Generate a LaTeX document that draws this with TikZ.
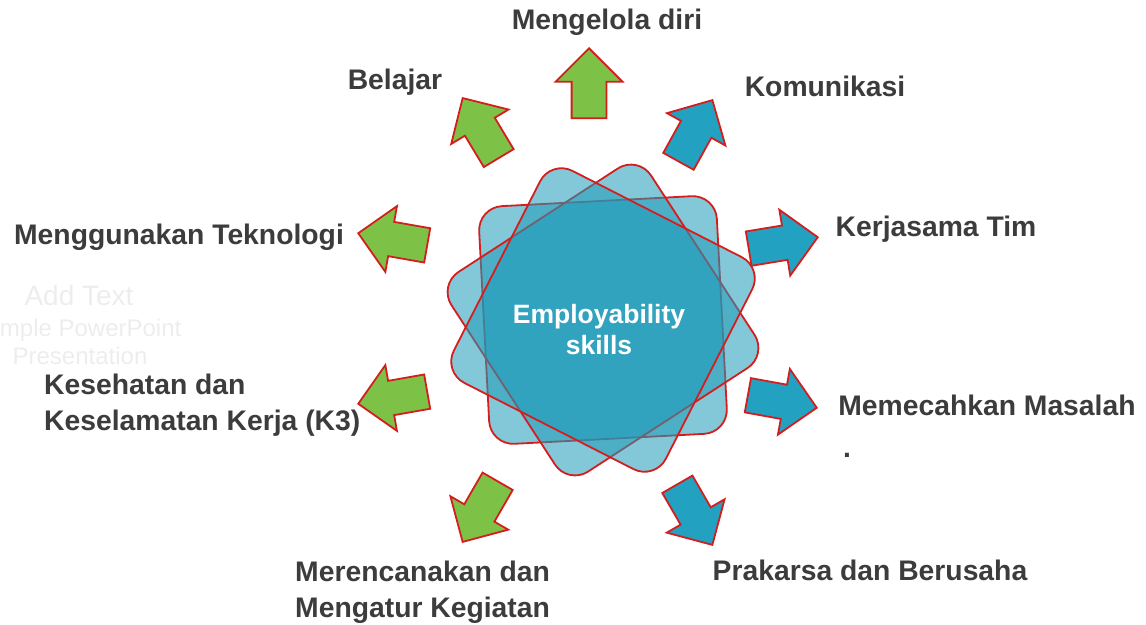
\documentclass[tikz,border=0pt]{standalone}
\usepackage{fontspec}
\setmainfont{Liberation Sans}
\usetikzlibrary{shapes.arrows,positioning}
\definecolor{skgreen}{HTML}{7DC246}
\definecolor{skblue}{HTML}{23A1C0}
\definecolor{skred}{HTML}{D41E1E}
\definecolor{skpetal}{HTML}{1E9AB8}
\definecolor{skink}{HTML}{3C3C3C}
\tikzset{
  garr/.style={single arrow, draw=skred, fill=skgreen, line width=1.8pt, minimum height=70pt, single arrow head extend=16pt, single arrow tip angle=90, inner sep=16.5pt, anchor=tip},
  barr/.style={garr, fill=skblue},
  lbl/.style={font=\fontsize{28.3}{36}\selectfont\bfseries, text=skink, align=left, inner sep=0pt},
  petal/.style={draw=skred, line width=1.8pt, fill=skpetal, fill opacity=0.55, rounded corners=24pt},
}
\begin{document}
\begin{tikzpicture}[x=1pt, y=-1pt]
    \useasboundingbox (0,0) rectangle (1146,624);
    % star of three rounded squares
    \foreach \a in {3,33,63}
      { \draw[petal, shift={(603,320)}, rotate=\a] (-119,-119) rectangle (119,119); }
    \node[font=\fontsize{26.5}{31}\selectfont\bfseries, text=white, align=center] (core) at (599,330) {Employability\\skills};
    % arrows
    \node[garr, rotate=90]    (aDiri)   at (589,47)  {};
    \node[garr, rotate=121]   (aBljr)   at (462,97)  {};
    \node[barr, rotate=61]    (aKomu)   at (713,99)  {};
    \node[garr, rotate=170]   (aTekn)   at (357,233) {};
    \node[barr, rotate=9.4]   (aTim)    at (819,237) {};
    \node[garr, rotate=190]   (aK3)     at (357,404) {};
    \node[barr, rotate=-10.3] (aMslh)   at (818,408) {};
    \node[garr, rotate=-120]  (aRenc)   at (462,543) {};
    \node[barr, rotate=-60]   (aPrak)   at (713,546) {};
    % labels
    \node[lbl] (tDiri) at (607,22)  {Mengelola diri};
    \node[lbl] (tBljr) at (395,82)  {Belajar};
    \node[lbl] (tKomu) at (825,86)  {Komunikasi};
    \node[lbl] (tTekn) at (179,237) {Menggunakan Teknologi};
    \node[lbl] (tTim)  at (936,229) {Kerjasama Tim};
    \node[lbl, anchor=west] (tK3) at (44,405) {Kesehatan dan\\Keselamatan Kerja (K3)};
    \node[lbl] (tMslh) at (987,405) {Memecahkan Masalah};
    \node[lbl] (tDot)  at (847,455) {.};
    \node[lbl] (tPrak) at (870,570) {Prakarsa dan Berusaha};
    \node[lbl, anchor=west] (tRenc) at (295,592) {Merencanakan dan\\Mengatur Kegiatan};
    % faint placeholder text
    \node[font=\fontsize{28}{30}\selectfont, text=black!7] (ghostA) at (79,295) {Add Text};
    \node[font=\fontsize{24}{28}\selectfont, text=black!7, align=center] (ghostB) at (80,342) {Simple PowerPoint\\Presentation};
\end{tikzpicture}
\end{document}
